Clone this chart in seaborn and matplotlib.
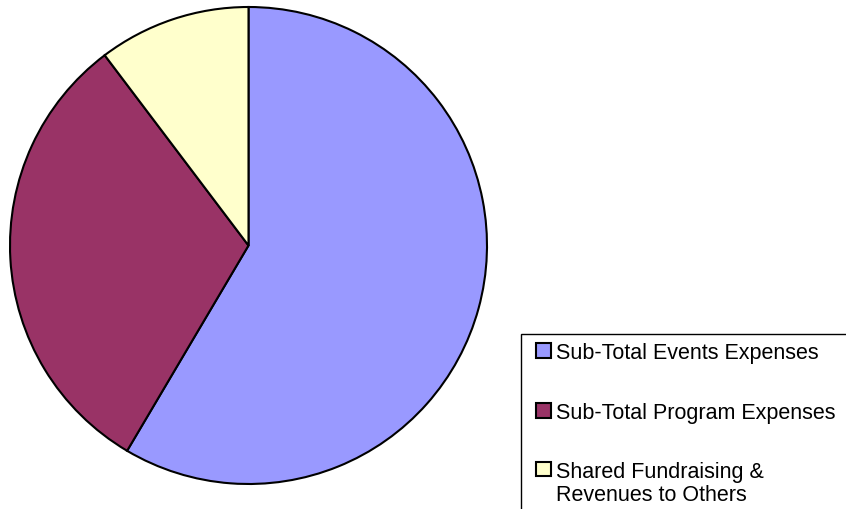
import matplotlib
matplotlib.use("Agg")
import matplotlib.pyplot as plt
import seaborn as sns
from matplotlib.patches import Rectangle

# data (shares in percent)
labels = ["Sub-Total Events Expenses", "Sub-Total Program Expenses",
          "Shared Fundraising &\nRevenues to Others"]
shares = [58.5, 31.2, 10.3]
colors = ["#9999FF", "#993366", "#FFFFCC"]

sns.set_theme(style="white")
plt.rcParams['font.family'] = ['Liberation Sans', 'DejaVu Sans']

W, H = 846, 510
fig = plt.figure(figsize=(W / 100, H / 100), dpi=100)

# pie centre and radius in pixels
cx, cy, r = 248.5, 246.5, 238.5
ax = fig.add_axes([(cx - r) / W, (H - cy - r) / H, 2 * r / W, 2 * r / H])
wedges, _ = ax.pie(shares, colors=colors, startangle=90, counterclock=False,
                   radius=1, wedgeprops=dict(edgecolor="black", linewidth=1.5))
for w in wedges:
    w.set_clip_on(False)
ax.set_xlim(-1, 1)
ax.set_ylim(-1, 1)
ax.set_aspect("equal")
ax.axis("off")

# legend frame runs off the right/bottom of the picture
fig.patches.append(Rectangle((521 / W, -0.05), 0.5, (H - 335) / H + 0.05,
                             transform=fig.transFigure, facecolor="white",
                             edgecolor="black", linewidth=1.0, zorder=0))

leg = fig.legend(wedges, labels, loc="upper left",
                 bbox_to_anchor=(536 / W, (H - 343) / H),
                 frameon=False, fontsize=15.5, labelspacing=1.8,
                 labelcolor="black",
                 handlelength=0.68, handleheight=0.68, handletextpad=0.25,
                 borderaxespad=0, borderpad=0)
for h in leg.legend_handles:
    h.set_linewidth(1.5)
    h.set_edgecolor("black")
for t in leg.get_texts():
    t.set_linespacing(1.1)

# keep the square of the two-line entry next to its first line
try:
    col = leg._legend_handle_box.get_children()[0]
    col.get_children()[-1].align = "top"
except Exception:
    pass

fig.savefig("out.png", dpi=100)
